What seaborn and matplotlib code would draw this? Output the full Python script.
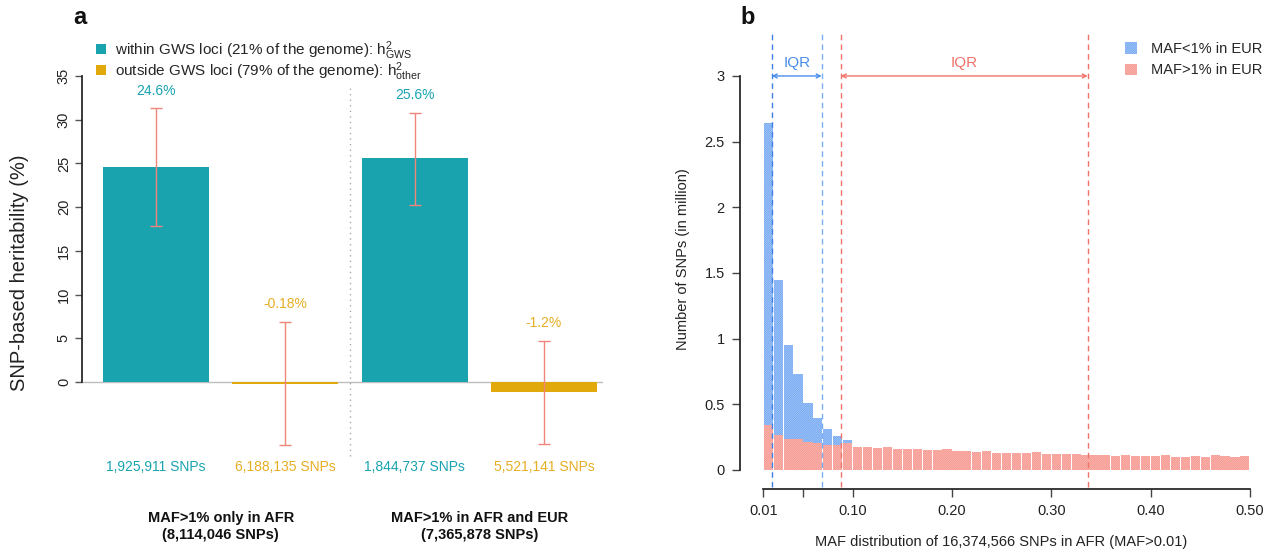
import numpy as np
import pandas as pd
import matplotlib
matplotlib.use("Agg")
import matplotlib.pyplot as plt
import matplotlib.colors as mcolors
import seaborn as sns
from matplotlib.patches import Patch

# ---------------- data: panel a ----------------
bar_keys = ["AFR_GWS", "AFR_other", "AFREUR_GWS", "AFREUR_other"]
h2_pct = [24.6, -0.18, 25.6, -1.2]
ci_low = [17.8, -7.2, 20.3, -7.1]
ci_high = [31.3, 6.9, 30.8, 4.7]
pct_text = ["24.6%", "-0.18%", "25.6%", "-1.2%"]
snp_text = ["1,925,911 SNPs", "6,188,135 SNPs", "1,844,737 SNPs", "5,521,141 SNPs"]
group_text = ["MAF>1% only in AFR\n(8,114,046 SNPs)",
              "MAF>1% in AFR and EUR\n(7,365,878 SNPs)"]
legend_a = [r"within GWS loci (21% of the genome): $\mathrm{h}^2_{\mathrm{GWS}}$",
            r"outside GWS loci (79% of the genome): $\mathrm{h}^2_{\mathrm{other}}$"]
yticks_a = [0, 5, 10, 15, 20, 25, 30, 35]

# ---------------- data: panel b ----------------
maf_edges = [round(0.01 + 0.01 * i, 2) for i in range(50)]
red_counts = [0.343, 0.267, 0.233, 0.239, 0.211, 0.203, 0.193, 0.188, 0.203, 0.178,
              0.173, 0.165, 0.178, 0.160, 0.160, 0.158, 0.155, 0.150, 0.160, 0.145,
              0.143, 0.137, 0.147, 0.129, 0.129, 0.129, 0.127, 0.137, 0.122, 0.122,
              0.120, 0.124, 0.114, 0.112, 0.112, 0.110, 0.117, 0.107, 0.107, 0.107,
              0.114, 0.102, 0.102, 0.104, 0.102, 0.112, 0.104, 0.100, 0.107]
blue_counts = [2.297, 1.180, 0.719, 0.492, 0.297, 0.190, 0.119, 0.071, 0.023] + [0.0] * 40
groups_b = ["MAF<1% in EUR", "MAF>1% in EUR"]
iqr_blue = [0.0185, 0.0688]
iqr_red = [0.0880, 0.3367]
xtick_vals = [0.01, 0.05, 0.10, 0.20, 0.30, 0.40, 0.50]
xtick_labels = ["0.01", "", "0.10", "0.20", "0.30", "0.40", "0.50"]
yticks_b = [0, 0.5, 1, 1.5, 2, 2.5, 3]
ytick_labels_b = ["0", "0.5", "1", "1.5", "2", "2.5", "3"]

# ---------------- style ----------------
sns.set_theme(style="ticks")
plt.rcParams["font.family"] = ["Liberation Sans", "DejaVu Sans"]
plt.rcParams["mathtext.fontset"] = "custom"
plt.rcParams["mathtext.rm"] = "Liberation Sans"
plt.rcParams["mathtext.it"] = "Liberation Sans:italic"
plt.rcParams["mathtext.bf"] = "Liberation Sans:bold"
plt.rcParams["hatch.linewidth"] = 0.7

TEAL = "#18A3AF"
YELLOW = "#E1A90B"
YELLOW_TXT = "#E6AE22"
ERR = "#F2857B"
BLUE = "#3A82EE"
BLUE_H = "#A6C8F7"
RED = "#F26A60"
RED_H = "#F9BBB5"
BLUE_LINE = "#4A8EEB"
RED_LINE = "#F0736A"
AXC = "#222222"
HATCH = "/" * 18

fig = plt.figure(figsize=(12.81, 5.6), dpi=100)
W, H = 1281, 560

def px_axes(left, top, right, bottom):
    return [left / W, 1 - bottom / H, (right - left) / W, (bottom - top) / H]

# ================= panel a =================
ax = fig.add_axes(px_axes(82, 76, 605, 470))
df_a = pd.DataFrame({"key": bar_keys, "h2": h2_pct})
pal_a = {k: (TEAL if "GWS" in k else YELLOW) for k in bar_keys}
sns.barplot(data=df_a, x="key", y="h2", hue="key", order=bar_keys, palette=pal_a,
            legend=False, width=0.82, saturation=1, errorbar=None, linewidth=0, ax=ax,
            zorder=2)
xpos = np.arange(len(bar_keys))
h = np.array(h2_pct)
ax.errorbar(xpos, h, yerr=[h - np.array(ci_low), np.array(ci_high) - h], fmt="none",
            ecolor=ERR, elinewidth=1, capsize=4, capthick=1, zorder=3)
ax.axhline(0, xmin=0.0, xmax=0.995, color="#BDBDBD", lw=1, zorder=1)
ax.set_xlim(-0.572, 3.472)
ax.set_ylim(-10.07, 35)
ax.set_yticks(yticks_a)
ax.set_yticklabels([str(v) for v in yticks_a], rotation=90, va="center", fontsize=10.5,
                   color=AXC)
ax.set_xticks([])
ax.set_xlabel("")
ax.set_ylabel("SNP-based heritability (%)", fontsize=14.5, color=AXC, labelpad=20)
for s in ["top", "right", "bottom"]:
    ax.spines[s].set_visible(False)
ax.spines["left"].set_bounds(0, 35)
ax.spines["left"].set_color(AXC)
ax.tick_params(axis="y", length=5, color="#555555", width=1, pad=3)

for i in range(len(bar_keys)):
    col = TEAL if "GWS" in bar_keys[i] else YELLOW_TXT
    ax.text(xpos[i], ci_high[i] + 2.0, pct_text[i], ha="center", va="center",
            fontsize=10, color=col)
    ax.text(xpos[i], -9.7, snp_text[i], ha="center", va="center", fontsize=10, color=col)
for g, gx in enumerate([0.5, 2.5]):
    ax.text(gx, -16.5, group_text[g], ha="center", va="center", fontsize=10.5,
            fontweight="bold", color="#111111", linespacing=1.25, clip_on=False)
ax.axvline(1.5, ymin=0.035, ymax=0.97, color="#AAAAAA", lw=1, ls=(0, (1, 3)),
           clip_on=False)

handles_a = [Patch(facecolor=TEAL, edgecolor="none"), Patch(facecolor=YELLOW, edgecolor="none")]
fig.legend(handles_a, legend_a, loc="upper left", bbox_to_anchor=(96 / W, 1 - 39 / H),
           frameon=False, fontsize=11, handlelength=0.65, handleheight=0.65,
           handletextpad=0.6, labelspacing=-0.1, borderaxespad=0, borderpad=0)

fig.text(80 / W, 1 - 18 / H, "a", fontsize=17, fontweight="bold", ha="center",
         va="center", color="#111111")

# ================= panel b =================
bx = fig.add_axes(px_axes(740, 30, 1262, 489))
centers = [round(e + 0.005, 3) for e in maf_edges[:-1]]
df_b = pd.DataFrame({
    "maf": centers * 2,
    "n": blue_counts + red_counts,
    "grp": [groups_b[0]] * len(centers) + [groups_b[1]] * len(centers),
})
sns.histplot(data=df_b, x="maf", weights="n", hue="grp", hue_order=groups_b,
             bins=maf_edges, multiple="stack", palette=[BLUE, RED], alpha=1,
             legend=False, ax=bx, element="bars", stat="count", shrink=0.92)
blue_rgb = np.array(mcolors.to_rgb(BLUE))
for p in bx.patches:
    if p.get_height() <= 1e-9:
        p.set_visible(False)
        continue
    fc = np.array(mcolors.to_rgb(p.get_facecolor()))
    is_blue = np.allclose(fc, blue_rgb, atol=0.02)
    p.set_hatch(HATCH)
    p.set_edgecolor(BLUE_H if is_blue else RED_H)
    p.set_linewidth(0)

bx.set_xlim(-0.01346, 0.5122)
bx.set_ylim(-0.145, 3.35)
bx.set_xticks(xtick_vals)
bx.set_xticklabels(xtick_labels, fontsize=10.5, color=AXC)
bx.set_yticks(yticks_b)
bx.set_yticklabels(ytick_labels_b, fontsize=10.5, color=AXC)
bx.set_xlabel("MAF distribution of 16,374,566 SNPs in AFR (MAF>0.01)", fontsize=10.5,
              color=AXC, labelpad=12)
bx.set_ylabel("Number of SNPs (in million)", fontsize=10.5, color=AXC, labelpad=10)
for s in ["top", "right"]:
    bx.spines[s].set_visible(False)
bx.spines["left"].set_bounds(0, 3)
bx.spines["bottom"].set_bounds(0.01, 0.5)
for s in ["left", "bottom"]:
    bx.spines[s].set_color(AXC)
bx.tick_params(axis="both", length=6, color="#444444", width=1, pad=5)

ymin_f, ymax_f = 0.004, 0.9935
for xv, col in [(iqr_blue[0], "#3F80E6"), (iqr_blue[1], "#7AAEF2"),
                (iqr_red[0], RED_LINE), (iqr_red[1], RED_LINE)]:
    bx.axvline(xv, ymin=ymin_f, ymax=ymax_f, color=col, lw=1, ls=(0, (4, 3)), zorder=3)

for (x0, x1), col in [(iqr_blue, BLUE_LINE), (iqr_red, RED_LINE)]:
    bx.annotate("", xy=(x0, 3.0), xytext=(x1, 3.0),
                arrowprops=dict(arrowstyle="<->", color=col, lw=1,
                                shrinkA=0, shrinkB=0, mutation_scale=7))
    bx.text((x0 + x1) / 2, 3.1, "IQR", ha="center", va="center", fontsize=11, color=col)

handles_b = [Patch(facecolor=BLUE, edgecolor=BLUE_H, hatch=HATCH, lw=0),
             Patch(facecolor=RED, edgecolor=RED_H, hatch=HATCH, lw=0)]
bx.legend(handles_b, groups_b, loc="upper left", bbox_to_anchor=(1125 / W, 1 - 42 / H),
          bbox_transform=fig.transFigure, frameon=False, fontsize=10.5,
          handlelength=0.8, handleheight=0.8, handletextpad=1.0, labelspacing=0.5,
          borderaxespad=0, borderpad=0)

fig.text(748 / W, 1 - 18 / H, "b", fontsize=17, fontweight="bold", ha="center",
         va="center", color="#111111")

fig.savefig("out.png", dpi=100)
